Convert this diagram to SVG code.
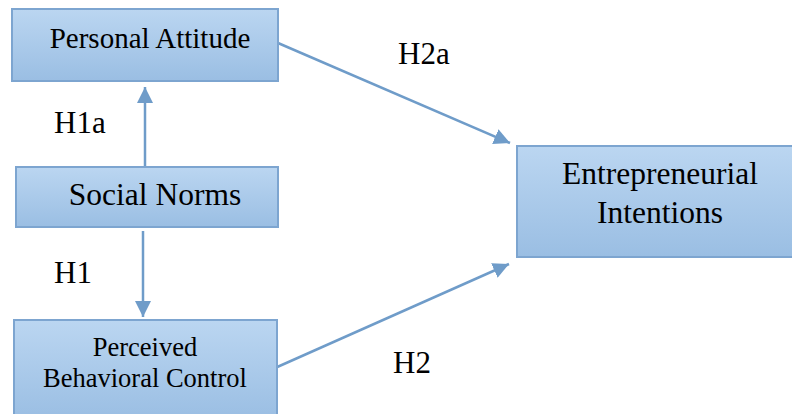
<svg xmlns="http://www.w3.org/2000/svg" width="792" height="414" viewBox="0 0 792 414">
<defs>
<linearGradient id="g" x1="0" y1="0" x2="0" y2="1">
<stop offset="0" stop-color="#BBD6F1"/>
<stop offset="1" stop-color="#9ABEE3"/>
</linearGradient>
<marker id="ah" markerUnits="userSpaceOnUse" markerWidth="18" markerHeight="16" refX="16" refY="8" orient="auto">
<path d="M0,0 L16,8 L0,16 Z" fill="#6F9CC9"/>
</marker>
<style>
.box{fill:url(#g);stroke:#7DA5D0;stroke-width:2}
text{font-family:"Times New Roman",Times,"Liberation Serif",serif;fill:#000}
.t{text-anchor:middle}
.lbl{font-size:31px}
.c{stroke:#6F9CC9;stroke-width:2.5;fill:none;marker-end:url(#ah)}
</style>
</defs>
<rect width="792" height="414" fill="#fff"/>
<g id="connectors">
<line class="c" x1="145" y1="167" x2="145" y2="87"/>
<line class="c" x1="143" y1="231" x2="143" y2="317"/>
<line class="c" x1="278" y1="43" x2="510" y2="143"/>
<line class="c" x1="275" y1="368" x2="509" y2="264"/>
</g>
<g id="personal-attitude">
<rect class="box" x="12" y="9" width="266" height="72"/>
<text class="t" x="150" y="48" font-size="29">Personal Attitude</text>
</g>
<g id="social-norms">
<rect class="box" x="16" y="167" width="262" height="60"/>
<text class="t" x="155" y="205" font-size="31.5">Social Norms</text>
</g>
<g id="perceived-behavioral-control">
<rect class="box" x="14" y="320" width="263" height="100"/>
<text class="t" x="145" y="356" font-size="26.5">Perceived</text>
<text class="t" x="145" y="387" font-size="26.5">Behavioral Control</text>
</g>
<g id="entrepreneurial-intentions">
<rect class="box" x="517" y="146" width="290" height="111"/>
<text class="t" x="660" y="184" font-size="31.5">Entrepreneurial</text>
<text class="t" x="660" y="223" font-size="31.5">Intentions</text>
</g>
<g id="labels">
<text class="lbl" x="54" y="133">H1a</text>
<text class="lbl" x="54" y="283">H1</text>
<text class="lbl" x="398" y="64">H2a</text>
<text class="lbl" x="393" y="373">H2</text>
</g>
</svg>
